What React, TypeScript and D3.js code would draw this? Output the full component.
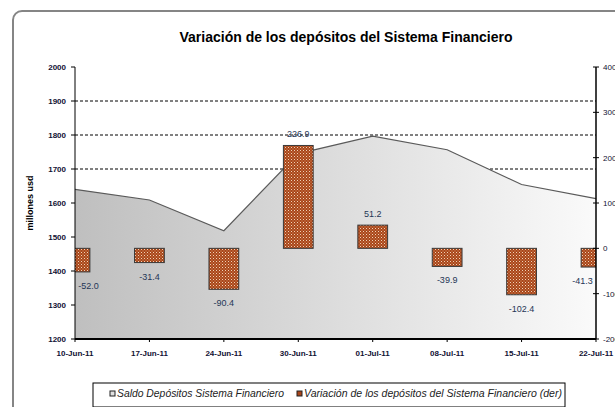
import React from "react";
import * as d3 from "d3";

const dates = ["10-Jun-11", "17-Jun-11", "24-Jun-11", "30-Jun-11", "01-Jul-11", "08-Jul-11", "15-Jul-11", "22-Jul-11"];
const saldo = [1640.3, 1608.9, 1518.5, 1745.4, 1796.6, 1756.7, 1654.3, 1613.0];
const variacion = [-52.0, -31.4, -90.4, 226.9, 51.2, -39.9, -102.4, -41.3];
const leftTicks = [1200, 1300, 1400, 1500, 1600, 1700, 1800, 1900, 2000];
const rightTicks = [-200, -100, 0, 100, 200, 300, 400];
const gridValues = [1700, 1800, 1900];
const title = "Variación de los depósitos del Sistema Financiero";
const yTitle = "millones usd";
const legendLabels = ["Saldo Depósitos Sistema Financiero", "Variación de los depósitos del Sistema Financiero (der)"];

const W = 615, H = 407;
const PL = 75, PR = 596, PT = 67, PB = 339;
const FONT = "'Liberation Sans', Arial, sans-serif";

export default function App() {
  const x = d3.scalePoint<string>().domain(dates).range([PL, PR]);
  const yL = d3.scaleLinear().domain([1200, 2000]).range([PB, PT]);
  const yR = d3.scaleLinear().domain([-200, 400]).range([PB, PT]);
  const barW = x.step() * 0.4;

  const area = d3.area<number>()
    .x((_, i) => x(dates[i])!)
    .y0(PB)
    .y1((d) => yL(d));
  const line = d3.line<number>()
    .x((_, i) => x(dates[i])!)
    .y((d) => yL(d));

  const tickColor = "#111133";
  const labelColor = "#1f3656";

  return (
    <svg width={W} height={H} style={{ position: "absolute", left: 0, top: 0 }} fontFamily={FONT}>
      <defs>
        <linearGradient id="areaGrad" x1="0" x2="1" y1="0" y2="0">
          <stop offset="0%" stopColor="#bfbfbf" />
          <stop offset="100%" stopColor="#fafafa" />
        </linearGradient>
        <pattern id="dots" width="3" height="3" patternUnits="userSpaceOnUse">
          <rect width="3" height="3" fill="#a8451a" />
          <rect x="0" y="0" width="1" height="1" fill="#f0d2b4" />
          <rect x="1.5" y="1.5" width="1" height="1" fill="#e0a070" />
        </pattern>
        <clipPath id="plotClip">
          <rect x={PL} y={PT} width={PR - PL} height={PB - PT} />
        </clipPath>
      </defs>

      <rect x={0} y={0} width={W} height={H} fill="#ffffff" />
      <rect x={13} y={11} width={720} height={520} rx={9} fill="#ffffff" stroke="#858585" strokeWidth={2} />

      <text x={346} y={42} textAnchor="middle" fontWeight="bold" fontSize={14} fill="#000">{title}</text>

      {/* gridlines */}
      {gridValues.map((v) => (
        <line key={v} x1={PL} x2={PR} y1={yL(v)} y2={yL(v)} stroke="#000" strokeWidth={1} strokeDasharray="3,2" />
      ))}

      {/* area */}
      <path d={area(saldo)! + `L${PR},${PB}Z`} fill="url(#areaGrad)" />
      <path d={line(saldo)!} fill="none" stroke="#5a5a5a" strokeWidth={1.2} />

      {/* bars */}
      <g clipPath="url(#plotClip)">
        {variacion.map((v, i) => {
          const cx = x(dates[i])!;
          const y0 = yR(0), y1 = yR(v);
          return (
            <rect key={i} x={cx - barW / 2} y={Math.min(y0, y1)} width={barW} height={Math.abs(y1 - y0)}
              fill="url(#dots)" stroke="#3a3a3a" strokeWidth={1} />
          );
        })}
      </g>

      {/* data labels */}
      {variacion.map((v, i) => {
        const txt = v.toFixed(1);
        const w = txt.length * 4.6;
        const cx = Math.max(PL + w / 2 + 2, Math.min(PR - w / 2 - 2, x(dates[i])!));
        const y = v >= 0 ? yR(v) - 8 : yR(v) + 17;
        return (
          <text key={i} x={cx} y={y} textAnchor="middle" fontSize={9} fill={labelColor}>{txt}</text>
        );
      })}

      {/* left axis */}
      <line x1={PL} x2={PL} y1={PT} y2={PB} stroke="#000" strokeWidth={1} />
      {leftTicks.map((t) => (
        <g key={t}>
          <line x1={PL - 4} x2={PL} y1={yL(t)} y2={yL(t)} stroke="#000" />
          <text x={PL - 9} y={yL(t) + 3} textAnchor="end" fontSize={8} fontWeight="bold" fill={tickColor}>{t}</text>
        </g>
      ))}
      <text transform={`translate(33,${(PT + PB) / 2}) rotate(-90)`} textAnchor="middle" fontSize={9} fontWeight="bold" fill="#000">{yTitle}</text>

      {/* right axis */}
      <line x1={PR} x2={PR} y1={PT} y2={PB} stroke="#000" strokeWidth={1.5} />
      {rightTicks.map((t) => (
        <g key={t}>
          <line x1={PR - 3} x2={PR + 3} y1={yR(t)} y2={yR(t)} stroke="#000" />
          <text x={PR + 7} y={yR(t) + 3} textAnchor="start" fontSize={8} fill={tickColor}>{t}</text>
        </g>
      ))}

      {/* x axis */}
      <line x1={PL} x2={PR} y1={PB} y2={PB} stroke="#000" strokeWidth={2} />
      {dates.map((d) => (
        <g key={d}>
          <line x1={x(d)!} x2={x(d)!} y1={PB} y2={PB + 3} stroke="#000" />
          <text x={x(d)!} y={356} textAnchor="middle" fontSize={8} fontWeight="bold" fill={tickColor}>{d}</text>
        </g>
      ))}

      {/* legend */}
      <rect x={93} y={383} width={472} height={24} fill="#fff" stroke="#000" strokeWidth={1} />
      <rect x={110} y={391} width={5} height={5} fill="#e0e0e0" stroke="#222" strokeWidth={1} />
      <text x={117} y={397} fontSize={10} fontStyle="italic" fill="#222" textLength={167} lengthAdjust="spacingAndGlyphs">{legendLabels[0]}</text>
      <rect x={297} y={391} width={5} height={5} fill="#a8451a" stroke="#222" strokeWidth={1} />
      <text x={304} y={397} fontSize={10} fontStyle="italic" fill="#222" textLength={258} lengthAdjust="spacingAndGlyphs">{legendLabels[1]}</text>
    </svg>
  );
}
